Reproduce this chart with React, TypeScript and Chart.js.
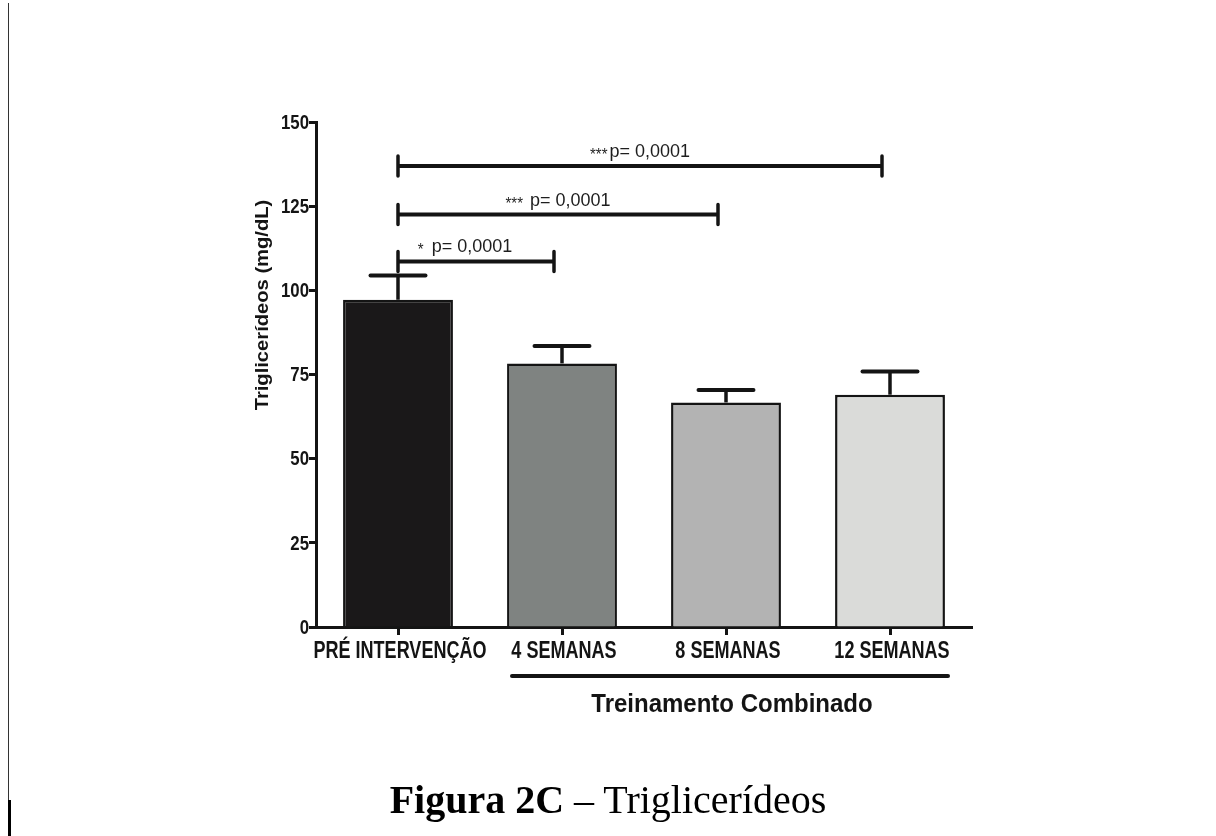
import React, { useEffect, useRef } from 'react';
import { Chart, registerables } from 'chart.js';

Chart.register(...registerables);

const categories = ['PRÉ INTERVENÇÃO', '4 SEMANAS', '8 SEMANAS', '12 SEMANAS'];
const means = [97.2, 78.3, 66.7, 69.0];
const errorTops = [104.4, 83.5, 70.4, 75.9];
const barColors = ['#1a1819', '#7f8381', '#b3b3b3', '#dadbd9'];

const yMin = 0;
const yMax = 150;
const yStep = 25;

const sigFrom = [0, 0, 0];
const sigTo = [1, 2, 3];
const sigLevel = [108.6, 122.5, 136.9];
const sigStars = ['*', '***', '***'];
const sigText = ['p= 0,0001', 'p= 0,0001', 'p= 0,0001'];
const sigGap = [8, 7, 2];
const sigShift = [-11, 0, 0];

const yTitle = 'Triglicerídeos (mg/dL)';
const groupTitle = 'Treinamento Combinado';
const groupFrom = 1;
const groupTo = 3;
const captionBold = 'Figura 2C';
const captionRest = ' – Triglicerídeos';

const SANS = '"Liberation Sans", Arial, sans-serif';
const INK = '#141414';

function drawText(
  ctx: CanvasRenderingContext2D,
  s: string,
  x: number,
  y: number,
  font: string,
  align: CanvasTextAlign,
  baseline: CanvasTextBaseline,
  sx: number,
  sy: number,
) {
  ctx.save();
  ctx.translate(x, y);
  ctx.scale(sx, sy);
  ctx.font = font;
  ctx.textAlign = align;
  ctx.textBaseline = baseline;
  ctx.fillText(s, 0, 0);
  ctx.restore();
}

const overlayPlugin = {
  id: 'overlay',
  afterDatasetsDraw(chart: any) {
    const ctx: CanvasRenderingContext2D = chart.ctx;
    const x = chart.scales.x;
    const y = chart.scales.y;
    const meta = chart.getDatasetMeta(0);
    ctx.save();
    ctx.strokeStyle = INK;
    ctx.fillStyle = INK;

    // error bars (upward)
    meta.data.forEach((bar: any, i: number) => {
      const top = y.getPixelForValue(errorTops[i]);
      const half = bar.width / 4;
      ctx.lineCap = 'butt';
      ctx.lineWidth = 3.5;
      ctx.beginPath();
      ctx.moveTo(bar.x, bar.y);
      ctx.lineTo(bar.x, top);
      ctx.stroke();
      ctx.lineCap = 'round';
      ctx.lineWidth = 4;
      ctx.beginPath();
      ctx.moveTo(bar.x - half, top);
      ctx.lineTo(bar.x + half, top);
      ctx.stroke();
    });

    // axis tick labels (condensed bold, drawn at the scales' tick positions)
    y.ticks.forEach((t: any) => {
      drawText(ctx, String(t.value), 309, y.getPixelForValue(t.value) + 1, 'bold 20px ' + SANS, 'right', 'middle', 0.84, 1.05);
    });
    x.ticks.forEach((t: any) => {
      drawText(ctx, String(x.getLabelForValue(t.value)), x.getPixelForValue(t.value) + 2, 658, 'bold 22px ' + SANS, 'center', 'alphabetic', 0.82, 1.12);
    });

    // significance brackets
    for (let k = 0; k < sigFrom.length; k++) {
      const x1 = x.getPixelForValue(sigFrom[k]);
      const x2 = x.getPixelForValue(sigTo[k]) - 8;
      const yy = y.getPixelForValue(sigLevel[k]);
      ctx.lineCap = 'butt';
      ctx.lineWidth = 4;
      ctx.beginPath();
      ctx.moveTo(x1, yy);
      ctx.lineTo(x2, yy);
      ctx.stroke();
      ctx.lineCap = 'round';
      ctx.lineWidth = 3.5;
      ctx.beginPath();
      ctx.moveTo(x1, yy - 10);
      ctx.lineTo(x1, yy + 10);
      ctx.moveTo(x2, yy - 10);
      ctx.lineTo(x2, yy + 10);
      ctx.stroke();

      ctx.font = '15px ' + SANS;
      const sw = ctx.measureText(sigStars[k]).width;
      ctx.font = '18px ' + SANS;
      const tw = ctx.measureText(sigText[k]).width;
      const total = sw + sigGap[k] + tw;
      const cx = (x1 + x2) / 2 + sigShift[k];
      const left = cx - total / 2;
      const base = yy - 9;
      ctx.fillStyle = '#1e1e1e';
      drawText(ctx, sigStars[k], left, base + 3, '15px ' + SANS, 'left', 'alphabetic', 1, 1.05);
      drawText(ctx, sigText[k], left + sw + sigGap[k], base, '18px ' + SANS, 'left', 'alphabetic', 1, 1.05);
    }

    // y title
    ctx.fillStyle = INK;
    ctx.save();
    ctx.translate(263, 305);
    ctx.rotate(-Math.PI / 2);
    ctx.scale(1.12, 1);
    ctx.font = 'bold 18px ' + SANS;
    ctx.textAlign = 'center';
    ctx.textBaseline = 'middle';
    ctx.fillText(yTitle, 0, 0);
    ctx.restore();

    // group underline and title
    const gx1 = x.getPixelForValue(groupFrom) - 50;
    const gx2 = x.getPixelForValue(groupTo) + 58;
    ctx.lineCap = 'round';
    ctx.lineWidth = 4;
    ctx.beginPath();
    ctx.moveTo(gx1, 676);
    ctx.lineTo(gx2, 676);
    ctx.stroke();
    drawText(ctx, groupTitle, (gx1 + gx2) / 2 + 2, 712, 'bold 24px ' + SANS, 'center', 'alphabetic', 1, 1.1);

    ctx.restore();
  },
};

export default function App() {
  const ref = useRef<HTMLCanvasElement | null>(null);

  useEffect(() => {
    if (!ref.current) return;
    const chart = new Chart(ref.current, {
      type: 'bar',
      data: {
        labels: categories,
        datasets: [
          {
            data: means,
            backgroundColor: barColors,
            borderColor: INK,
            borderWidth: 2.5,
            barPercentage: 0.67,
            categoryPercentage: 1,
          },
        ],
      },
      options: {
        responsive: false,
        animation: false,
        events: [],
        layout: { padding: { left: 0, right: 244, top: 122, bottom: 0 } },
        plugins: {
          legend: { display: false },
          tooltip: { enabled: false },
          title: { display: false },
        },
        scales: {
          x: {
            type: 'category',
            offset: true,
            grid: {
              display: true,
              offset: false,
              drawOnChartArea: false,
              drawTicks: true,
              tickLength: 8,
              tickWidth: 3,
              tickColor: INK,
            },
            border: { display: true, color: INK, width: 3 },
            ticks: { display: false, autoSkip: false, maxRotation: 0 },
            afterFit: (s: any) => {
              s.height = 836 - 627;
            },
          },
          y: {
            min: yMin,
            max: yMax,
            grid: {
              display: true,
              drawOnChartArea: false,
              drawTicks: true,
              tickLength: 7,
              tickWidth: 3,
              tickColor: INK,
            },
            border: { display: true, color: INK, width: 3 },
            ticks: { display: false, stepSize: yStep },
            afterFit: (s: any) => {
              s.width = 316;
            },
          },
        },
      },
      plugins: [overlayPlugin],
    } as any);
    return () => chart.destroy();
  }, []);

  return (
    <div style={{ position: 'fixed', left: 0, top: 0, width: 1216, height: 836, background: '#fff', overflow: 'hidden' }}>
      <canvas ref={ref} width={1216} height={836} style={{ position: 'absolute', left: 0, top: 0 }} />
      <div style={{ position: 'absolute', left: 8, top: 3, width: 1, height: 797, background: '#333' }} />
      <div style={{ position: 'absolute', left: 8, top: 800, width: 3, height: 36, background: '#000' }} />
      <div
        style={{
          position: 'absolute',
          left: 0,
          width: 1216,
          top: 778,
          textAlign: 'center',
          fontFamily: '"Liberation Serif", "Times New Roman", serif',
          fontSize: 40,
          color: '#000',
          lineHeight: '44px',
        }}
      >
        <b>{captionBold}</b>
        {captionRest}
      </div>
    </div>
  );
}
